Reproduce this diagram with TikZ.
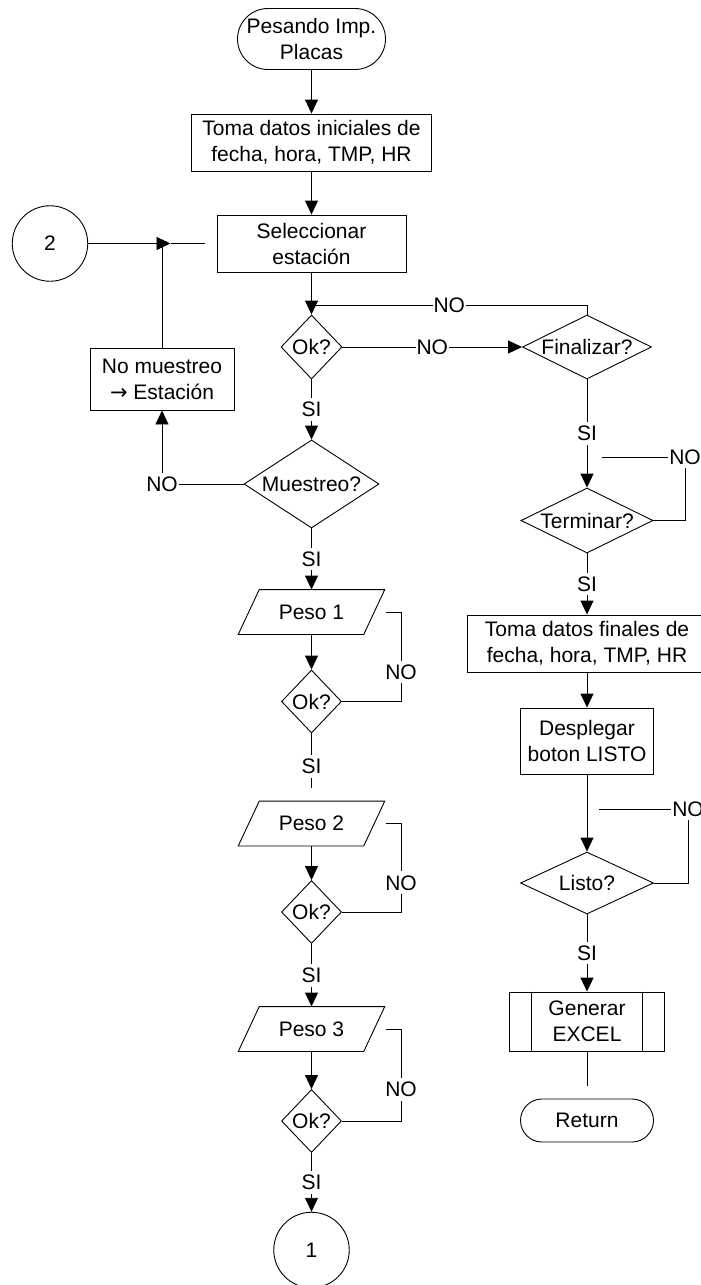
\documentclass[tikz,border=0pt]{standalone}
\usepackage{fontspec}
\setmainfont{Liberation Sans}
\newfontfamily\symfont{DejaVu Sans}
\usetikzlibrary{shapes.geometric,shapes.misc,arrows.meta}
\newcommand\drawpara[1]{\draw ([xshift=-10.5pt]#1.south west) -- ([xshift=10.5pt]#1.north west) -- ([xshift=10.5pt]#1.north east) -- ([xshift=-10.5pt]#1.south east) -- cycle;}
\newcommand\drawpredef[1]{\draw ([xshift=22.5pt]#1.north west) -- ([xshift=22.5pt]#1.south west); \draw ([xshift=-22.5pt]#1.north east) -- ([xshift=-22.5pt]#1.south east);}
\begin{document}
\begin{tikzpicture}[x=1pt,y=-1pt,line width=0.9pt,
  every node/.style={font=\fontsize{21}{26}\selectfont},
  box/.style={draw,rectangle,inner sep=0pt,align=center},
  term/.style={draw,rounded rectangle,inner sep=0pt,align=center},
  dec/.style={draw,diamond,inner sep=0pt},
  io/.style={rectangle,inner sep=0pt,minimum width=124.6pt,minimum height=44pt},
  conn/.style={draw,circle,inner sep=0pt,minimum size=75.5pt},
  lab/.style={fill=white,inner xsep=1pt,inner ysep=4pt},
  arr/.style={-{Triangle[length=14pt,width=13pt]}}]
\useasboundingbox (0,0) rectangle (701,1285);
% left column
\node[term,minimum width=148pt,minimum height=61pt] (start) at (311.5,39) {Pesando Imp.\\Placas};
\node[box,minimum width=240pt,minimum height=57pt] (toma1) at (311.5,142.5) {Toma datos iniciales de\\fecha, hora, TMP, HR};
\node[box,minimum width=189pt,minimum height=57pt] (sel) at (311.5,243.5) {Seleccionar\\estación};
\node[conn] (c2) at (50,243.5) {2};
\node[dec,minimum width=61pt,minimum height=64pt,label={center:Ok?}] (ok0) at (311.5,347) {};
\node[box,minimum width=144pt,minimum height=62pt] (nomu) at (162,379) {No muestreo\\{\symfont →} Estación};
\node[dec,minimum width=135pt,minimum height=88pt,label={center:Muestreo?}] (mues) at (311.5,484) {};
\node[io] (peso1) at (311.5,612) {Peso 1};
\drawpara{peso1}
\node[dec,minimum width=60pt,minimum height=63pt,label={center:Ok?}] (ok1) at (311.5,701.5) {};
\node[io] (peso2) at (311.5,823.5) {Peso 2};
\drawpara{peso2}
\node[dec,minimum width=60pt,minimum height=63pt,label={center:Ok?}] (ok2) at (311.5,912) {};
\node[io] (peso3) at (311.5,1029) {Peso 3};
\drawpara{peso3}
\node[dec,minimum width=60pt,minimum height=63pt,label={center:Ok?}] (ok3) at (311.5,1121) {};
\node[conn] (c1) at (311.5,1250) {1};
% right column
\node[dec,minimum width=129pt,minimum height=64pt,label={center:Finalizar?}] (fin) at (587,347) {};
\node[dec,minimum width=132pt,minimum height=65pt,label={center:Terminar?}] (term) at (587,520.5) {};
\node[box,minimum width=240pt,minimum height=57pt] (toma2) at (587,643.5) {Toma datos finales de\\fecha, hora, TMP, HR};
\node[box,minimum width=133pt,minimum height=66pt] (desp) at (587,741) {Desplegar\\boton LISTO};
\node[dec,minimum width=133pt,minimum height=62pt,label={center:Listo?}] (listo) at (587,883) {};
\node[box,minimum width=155pt,minimum height=59pt] (gen) at (587,1021.5) {Generar\\EXCEL};
\drawpredef{gen}
\node[term,minimum width=133pt,minimum height=43pt] (ret) at (587,1120.5) {Return};
% coordinates
\coordinate (j2) at (162,243.5);
\coordinate (j2tip) at (170.5,243.5);
\coordinate (j2end) at (205,243.5);
\coordinate (jt) at (311.5,305);
\coordinate (n1c) at (401,612);
\coordinate (n1e) at (386,612);
\coordinate (n2c) at (401,823.5);
\coordinate (n2e) at (386,823.5);
\coordinate (n3c) at (401,1029);
\coordinate (n3e) at (386,1029);
\coordinate (s1e) at (311.5,788);
\coordinate (tc) at (685,457);
\coordinate (te) at (602,457);
\coordinate (lc) at (688,809);
\coordinate (le) at (599,809);
\coordinate (ge) at (587,1086);
% connectors
\draw[arr] (start) -- (toma1);
\draw[arr] (toma1) -- (sel);
\draw[arr] (c2.east) -- (j2tip);
\draw (j2tip) -- (j2end);
\draw (nomu.north) -- (j2);
\draw[arr] (sel.south) -- (ok0.north);
\draw (fin.north) -- (fin.north |- jt) -- node[lab]{NO} (jt);
\draw[arr] (ok0.east) -- node[lab]{NO} (fin.west);
\draw[arr] (ok0.south) -- node[lab]{SI} (mues.north);
\draw[arr] (mues.west) -- (mues.west -| nomu.south) node[lab]{NO} -- (nomu.south);
\draw[arr] (mues.south) -- node[lab]{SI} (peso1.north);
\draw[arr] (peso1.south) -- (ok1.north);
\draw (ok1.east) -- (ok1.east -| n1c) -- node[lab,pos=0.33]{NO} (n1c) -- (n1e);
\draw (ok1.south) -- node[lab,pos=0.6]{SI} (s1e);
\draw[arr] (peso2.south) -- (ok2.north);
\draw (ok2.east) -- (ok2.east -| n2c) -- node[lab,pos=0.33]{NO} (n2c) -- (n2e);
\draw[arr] (ok2.south) -- node[lab]{SI} (peso3.north);
\draw[arr] (peso3.south) -- (ok3.north);
\draw (ok3.east) -- (ok3.east -| n3c) -- node[lab,pos=0.34]{NO} (n3c) -- (n3e);
\draw[arr] (ok3.south) -- node[lab]{SI} (c1.north);
\draw[arr] (fin.south) -- node[lab]{SI} (term.north);
\draw (term.east) -- (term.east -| tc) -- (tc) node[lab]{NO} -- (te);
\draw[arr] (term.south) -- node[lab]{SI} (toma2.north);
\draw[arr] (toma2.south) -- (desp.north);
\draw[arr] (desp.south) -- (listo.north);
\draw (listo.east) -- (listo.east -| lc) -- (lc) node[lab]{NO} -- (le);
\draw[arr] (listo.south) -- node[lab]{SI} (gen.north);
\draw (gen.south) -- (ge);
\end{tikzpicture}
\end{document}
